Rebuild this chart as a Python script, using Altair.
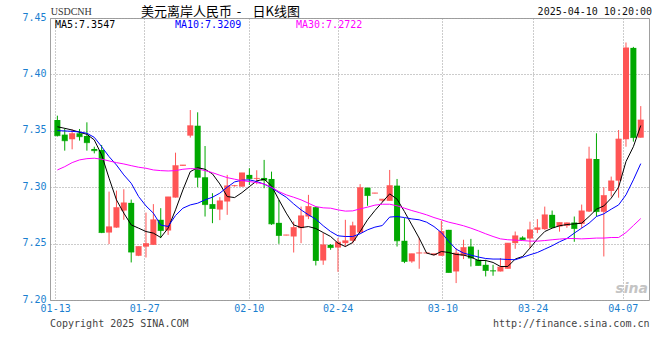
import altair as alt
import pandas as pd

# ---------------- data ----------------
opens = [7.3596, 7.3466, 7.3425, 7.3478, 7.3454, 7.3339, 7.3330, 7.2598, 7.2642, 7.2793,
         7.2861, 7.2392, 7.2473, 7.2489, 7.2711, 7.2616, 7.2908, 7.3190, 7.3457, 7.3545,
         7.3088, 7.2850, 7.2802, 7.2873, 7.3010, 7.3005, 7.3109, 7.3074, 7.3082, 7.3073,
         7.2684, 7.2573, 7.2563, 7.2637, 7.2740, 7.2823, 7.2350, 7.2489, 7.2465, 7.2504,
         7.2525, 7.2598, 7.2996, 7.2945, 7.2881, 7.2879, 7.3014, 7.2525, 7.2342, 7.2414,
         7.2414, 7.2398, 7.2392, 7.2622, 7.2253, 7.2393, 7.2474, 7.2357, 7.2312, 7.2261,
         7.2253, 7.2277, 7.2504, 7.2554, 7.2545, 7.2622, 7.2628, 7.2755, 7.2651, 7.2658,
         7.2687, 7.2675, 7.2784, 7.3250, 7.2782, 7.2967, 7.3058, 7.3425, 7.4235, 7.3439]
highs = [7.3634, 7.3522, 7.3513, 7.3516, 7.3575, 7.3359, 7.3374, 7.2961, 7.2970, 7.2982,
         7.2890, 7.2474, 7.2775, 7.2850, 7.2814, 7.2914, 7.3306, 7.3197, 7.3684, 7.3664,
         7.3365, 7.2947, 7.2912, 7.3109, 7.3020, 7.3127, 7.3168, 7.3150, 7.3242, 7.3138,
         7.2888, 7.2578, 7.2696, 7.2828, 7.2932, 7.2828, 7.2593, 7.2496, 7.2549, 7.2711,
         7.2694, 7.3027, 7.2996, 7.2950, 7.2894, 7.3153, 7.3073, 7.2726, 7.2410, 7.2551,
         7.2420, 7.2410, 7.2702, 7.2622, 7.2460, 7.2534, 7.2542, 7.2445, 7.2357, 7.2312,
         7.2372, 7.2504, 7.2607, 7.2565, 7.2694, 7.2717, 7.2828, 7.2793, 7.2687, 7.2687,
         7.2740, 7.2846, 7.3359, 7.3478, 7.3000, 7.3094, 7.3507, 7.4283, 7.4244, 7.3719]
lows = [7.3450, 7.3324, 7.3336, 7.3413, 7.3324, 7.3300, 7.2593, 7.2496, 7.2640, 7.2711,
        7.2333, 7.2389, 7.2377, 7.2489, 7.2549, 7.2577, 7.2908, 7.3190, 7.3440, 7.3000,
        7.2740, 7.2681, 7.2708, 7.2755, 7.3005, 7.3005, 7.3020, 7.3026, 7.2991, 7.2666,
        7.2498, 7.2573, 7.2421, 7.2504, 7.2717, 7.2306, 7.2312, 7.2445, 7.2250, 7.2470,
        7.2500, 7.2598, 7.2835, 7.2945, 7.2870, 7.2879, 7.2474, 7.2327, 7.2330, 7.2277,
        7.2412, 7.2398, 7.2392, 7.2244, 7.2150, 7.2363, 7.2297, 7.2306, 7.2209, 7.2215,
        7.2253, 7.2277, 7.2454, 7.2530, 7.2460, 7.2593, 7.2622, 7.2642, 7.2606, 7.2640,
        7.2516, 7.2637, 7.2780, 7.2740, 7.2386, 7.2917, 7.2907, 7.3359, 7.3404, 7.3439]
closes = [7.3457, 7.3412, 7.3475, 7.3448, 7.3395, 7.3324, 7.2598, 7.2649, 7.2819, 7.2861,
          7.2425, 7.2474, 7.2500, 7.2711, 7.2616, 7.2914, 7.3191, 7.3197, 7.3545, 7.3088,
          7.2846, 7.2811, 7.2879, 7.3012, 7.3014, 7.3127, 7.3076, 7.3078, 7.3062, 7.2675,
          7.2572, 7.2577, 7.2642, 7.2746, 7.2828, 7.2350, 7.2489, 7.2465, 7.2513, 7.2525,
          7.2658, 7.2996, 7.2926, 7.2949, 7.2894, 7.3014, 7.2525, 7.2342, 7.2410, 7.2418,
          7.2418, 7.2410, 7.2607, 7.2244, 7.2416, 7.2465, 7.2372, 7.2306, 7.2262, 7.2257,
          7.2292, 7.2504, 7.2569, 7.2536, 7.2622, 7.2640, 7.2755, 7.2642, 7.2687, 7.2684,
          7.2634, 7.2790, 7.3250, 7.2784, 7.2926, 7.3056, 7.3427, 7.4235, 7.3440, 7.3596]

ma5 = [7.3536, 7.3522, 7.3507, 7.3487, 7.3469, 7.3419, 7.3286, 7.3080, 7.2888, 7.2770,
       7.2666, 7.2637, 7.2607, 7.2593, 7.2554, 7.2637, 7.2799, 7.2976, 7.3138, 7.3173,
       7.3159, 7.3118, 7.3029, 7.2917, 7.2908, 7.2952, 7.3005, 7.3056, 7.3071, 7.3012,
       7.2888, 7.2770, 7.2666, 7.2642, 7.2651, 7.2634, 7.2598, 7.2563, 7.2504, 7.2474,
       7.2510, 7.2607, 7.2711, 7.2793, 7.2867, 7.2941, 7.2894, 7.2784, 7.2666, 7.2548,
       7.2416, 7.2398, 7.2430, 7.2421, 7.2404, 7.2398, 7.2381, 7.2350, 7.2350, 7.2333,
       7.2297, 7.2297, 7.2363, 7.2386, 7.2460, 7.2540, 7.2607, 7.2637, 7.2658, 7.2669,
       7.2675, 7.2681, 7.2740, 7.2805, 7.2834, 7.2903, 7.3000, 7.3227, 7.3359, 7.3547]
ma10 = [7.3501, 7.3499, 7.3495, 7.3490, 7.3478, 7.3442, 7.3359, 7.3271, 7.3197, 7.3109,
        7.3035, 7.2917, 7.2834, 7.2770, 7.2664, 7.2652, 7.2749, 7.2814, 7.2843, 7.2858,
        7.2888, 7.2911, 7.2947, 7.3000, 7.3047, 7.3062, 7.3065, 7.3050, 7.3027, 7.2996,
        7.2952, 7.2911, 7.2852, 7.2799, 7.2755, 7.2717, 7.2658, 7.2607, 7.2569, 7.2563,
        7.2563, 7.2587, 7.2622, 7.2646, 7.2660, 7.2735, 7.2740, 7.2731, 7.2719, 7.2711,
        7.2690, 7.2651, 7.2598, 7.2519, 7.2451, 7.2416, 7.2398, 7.2381, 7.2368, 7.2363,
        7.2363, 7.2359, 7.2357, 7.2378, 7.2401, 7.2421, 7.2451, 7.2481, 7.2516, 7.2545,
        7.2593, 7.2637, 7.2681, 7.2740, 7.2764, 7.2805, 7.2843, 7.2932, 7.3065, 7.3209]
ma30 = [7.3153, 7.3182, 7.3218, 7.3242, 7.3253, 7.3257, 7.3248, 7.3233, 7.3218, 7.3206,
        7.3191, 7.3177, 7.3168, 7.3153, 7.3147, 7.3144, 7.3147, 7.3159, 7.3165, 7.3162,
        7.3147, 7.3129, 7.3106, 7.3085, 7.3071, 7.3058, 7.3050, 7.3041, 7.3029, 7.3000,
        7.2961, 7.2932, 7.2911, 7.2888, 7.2858, 7.2828, 7.2817, 7.2814, 7.2799, 7.2788,
        7.2790, 7.2808, 7.2823, 7.2841, 7.2849, 7.2849, 7.2835, 7.2814, 7.2793, 7.2775,
        7.2755, 7.2731, 7.2711, 7.2690, 7.2675, 7.2658, 7.2637, 7.2613, 7.2587, 7.2563,
        7.2542, 7.2534, 7.2531, 7.2527, 7.2522, 7.2522, 7.2527, 7.2534, 7.2540, 7.2545,
        7.2545, 7.2542, 7.2545, 7.2549, 7.2549, 7.2554, 7.2554, 7.2598, 7.2660, 7.2722]

y_ticks = [7.20, 7.25, 7.30, 7.35, 7.40, 7.45]
x_tick_pos = [0.70, 12.76, 26.91, 38.95, 53.14, 65.36, 77.56]
x_tick_labels = ["01-13", "01-27", "02-10", "02-24", "03-10", "03-24", "04-07"]

ma_names = ["MA5", "MA10", "MA30"]
ma_colors = ["#000000", "#0000ff", "#ff00ff"]
ma_texts = ["MA5:7.3547", "MA10:7.3209", "MA30:7.2722"]

# ---------------- build tables ----------------
n = len(closes)
idx = list(range(1, n + 1))
candles = pd.DataFrame({"i": idx, "open": opens, "high": highs, "low": lows, "close": closes})
candles["dir"] = ["up" if c >= o else "down" for o, c in zip(opens, closes)]

ma_df = pd.DataFrame({
    "i": idx * 3,
    "v": ma5 + ma10 + ma30,
    "s": ["MA5"] * n + ["MA10"] * n + ["MA30"] * n,
})

UP = "#ff5555"
DOWN = "#00a800"
AXBLUE = "#1a7fd0"
MONO = "DejaVu Sans Mono"

xs = alt.Scale(domain=[0.68, 80.44], nice=False, zero=False)
ys = alt.Scale(domain=[7.20, 7.45], nice=False, zero=False)
col = alt.Color("dir:N", scale=alt.Scale(domain=["up", "down"], range=[UP, DOWN]), legend=None)

label_expr = "[" + ",".join("'%s'" % s for s in x_tick_labels) + "][indexof([" + \
    ",".join(repr(v) for v in x_tick_pos) + "], datum.value)]"

x_axis = alt.Axis(values=x_tick_pos, labelExpr=label_expr, title=None, ticks=False,
                  domain=False, grid=True, gridColor="#999999", gridDash=[1, 2],
                  labelColor=AXBLUE, labelFont=MONO, labelFontSize=10, labelPadding=3,
                  labelFlush=False, labelOverlap=False, labelBound=False)
y_axis = alt.Axis(values=y_ticks, format=".2f", title=None, ticks=False, domain=False,
                  grid=True, gridColor="#999999", gridDash=[1, 2],
                  labelColor=AXBLUE, labelFont=MONO, labelFontSize=10, labelPadding=4,
                  labelOffset=-1, labelOverlap=False, labelFlush=False)

base = alt.Chart(candles)

wicks = base.mark_rule(strokeWidth=1).encode(
    x=alt.X("i:Q", scale=xs, axis=x_axis),
    y=alt.Y("low:Q", scale=ys, axis=y_axis),
    y2="high:Q",
    color=col,
)
bodies = base.mark_bar(size=6).encode(
    x=alt.X("i:Q", scale=xs), y=alt.Y("open:Q", scale=ys), y2="close:Q", color=col
)
flat = base.mark_tick(orient="horizontal", size=6, thickness=1).encode(
    x=alt.X("i:Q", scale=xs), y=alt.Y("close:Q", scale=ys), color=col
)

line_layers = [
    alt.Chart(ma_df).transform_filter(alt.datum.s == name).mark_line(
        strokeWidth=1, color=c
    ).encode(x=alt.X("i:Q", scale=xs), y=alt.Y("v:Q", scale=ys))
    for name, c in zip(ma_names, ma_colors)
]


def txt(text, x, y, **kw):
    return alt.Chart(pd.DataFrame({"t": [text]})).mark_text(baseline="middle", **kw).encode(
        x=alt.value(x), y=alt.value(y), text="t:N"
    )


texts = [
    txt("USDCNH", 0.7, -6, align="left", font="Liberation Serif", fontSize=10, color="#333333"),
    txt("美元离岸人民币", 91, -6.5, align="left", font="Noto Sans CJK SC", fontSize=13, color="#000000"),
    txt("-", 189, -6.5, align="center", font="Noto Sans CJK SC", fontSize=13, color="#000000"),
    txt("日K线图", 202.5, -6.5, align="left", font="Noto Sans CJK SC", fontSize=13, color="#000000"),
    txt("2025-04-10 10:20:00", 602, -6, align="right", font=MONO, fontSize=10, color="#111111"),
    txt(ma_texts[0], 5, 7, align="left", font=MONO, fontSize=10, color=ma_colors[0]),
    txt(ma_texts[1], 125, 7, align="left", font=MONO, fontSize=10, color=ma_colors[1]),
    txt(ma_texts[2], 246, 7, align="left", font=MONO, fontSize=10, color=ma_colors[2]),
    txt("Copyright 2025 SINA.COM", 0, 305.5, align="left", font=MONO, fontSize=10, color="#444444"),
    txt("http://finance.sina.com.cn", 599.5, 305.5, align="right", font=MONO, fontSize=10, color="#444444"),
    txt("sina", 598, 271, align="right", font="DejaVu Sans", fontSize=14, fontWeight="bold",
        fontStyle="italic", color="#c4c4c4"),
]

chart = alt.layer(wicks, bodies, flat, *line_layers, *texts).properties(
    width=599, height=282,
    autosize=alt.AutoSizeParams(type="none"),
    padding={"left": 50, "top": 18, "right": 11, "bottom": 60},
    background="#ffffff",
).configure_view(stroke="#a0a0a0", strokeWidth=1)

chart.save("out.html", embed_options={"renderer": "svg", "actions": False})
